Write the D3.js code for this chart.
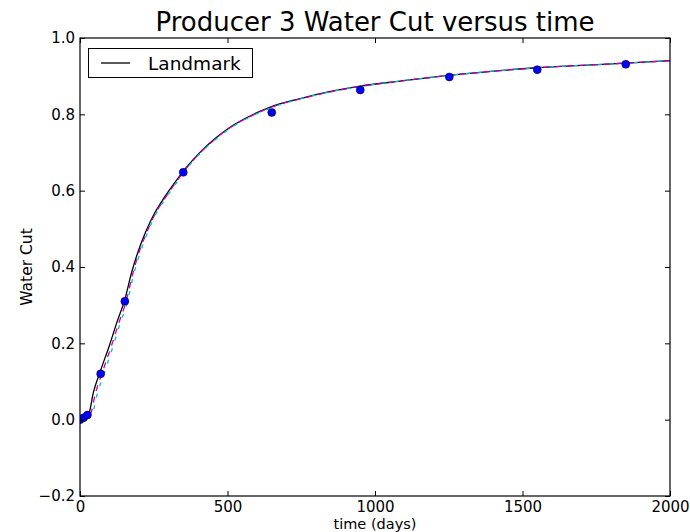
<!DOCTYPE html>
<html>
<head>
<meta charset="utf-8">
<script src="https://cdn.jsdelivr.net/npm/d3@7/dist/d3.min.js"></script>
<style>
  html, body { margin: 0; padding: 0; background: #fff; }
  svg { display: block; font-family: "DejaVu Sans", sans-serif; }
</style>
</head>
<body>
<svg id="chart" width="690" height="532"></svg>
<script>
// ---- data ----
const landmarkDays = [0, 10, 25, 30, 45, 68, 100, 125, 152, 175, 200, 225, 250, 285, 330, 362, 410, 460, 510, 580, 645, 750, 850, 950, 1085, 1250, 1550, 1850, 2000];
const landmarkWC   = [0, 0.004, 0.01, 0.015, 0.07, 0.125, 0.195, 0.255, 0.315, 0.386, 0.447, 0.496, 0.537, 0.581, 0.630, 0.662, 0.703, 0.738, 0.767, 0.797, 0.819, 0.842, 0.860, 0.874, 0.887, 0.902, 0.922, 0.934, 0.9405];

const sim1Days = [0, 10, 30, 36, 52, 74, 106, 131, 157, 179, 203, 228, 252, 287, 331, 363, 411, 461, 511, 581, 646, 750, 850, 950, 1085, 1250, 1550, 1850, 2000];
const sim1WC   = [0, 0.003, 0.009, 0.015, 0.068, 0.12, 0.192, 0.252, 0.312, 0.383, 0.445, 0.494, 0.535, 0.579, 0.628, 0.661, 0.702, 0.737, 0.766, 0.796, 0.818, 0.841, 0.859, 0.873, 0.887, 0.902, 0.922, 0.934, 0.9405];

const sim2Days = [0, 10, 35, 42, 58, 80, 111, 135, 161, 182, 206, 230, 254, 289, 333, 364, 412, 462, 512, 582, 647, 750, 850, 950, 1085, 1250, 1550, 1850, 2000];
const sim2WC   = [0, 0.003, 0.008, 0.015, 0.066, 0.117, 0.19, 0.25, 0.31, 0.381, 0.443, 0.492, 0.534, 0.578, 0.627, 0.66, 0.701, 0.736, 0.765, 0.795, 0.817, 0.841, 0.859, 0.873, 0.887, 0.902, 0.922, 0.934, 0.9405];

const obsDays = [0, 12, 25, 70, 152, 350, 650, 950, 1252, 1550, 1850];
const obsWC   = [0, 0.005, 0.012, 0.12, 0.31, 0.648, 0.805, 0.864, 0.898, 0.917, 0.931];

const xTicks = [0, 500, 1000, 1500, 2000];
const yTicks = [-0.2, 0.0, 0.2, 0.4, 0.6, 0.8, 1.0];

const titleText = "Producer 3 Water Cut versus time";
const xLabel = "time (days)";
const yLabel = "Water Cut";
const legendLabel = "Landmark";

// ---- layout ----
const svg = d3.select("#chart");
const L = 80, R = 670, T = 38, B = 496;
const x = d3.scaleLinear().domain([0, 2000]).range([L, R]);
const y = d3.scaleLinear().domain([-0.2, 1.0]).range([B, T]);

svg.append("defs").append("clipPath").attr("id", "clip")
  .append("rect").attr("x", L).attr("y", T).attr("width", R - L).attr("height", B - T);

const zip = (a, b) => a.map((d, i) => [d, b[i]]);
const line = d3.line().curve(d3.curveMonotoneX).x(d => x(d[0])).y(d => y(d[1]));

const plot = svg.append("g").attr("clip-path", "url(#clip)");

plot.append("path").datum(zip(landmarkDays, landmarkWC))
  .attr("d", line).attr("fill", "none").attr("stroke", "#000").attr("stroke-width", 1.3);
plot.append("path").datum(zip(sim1Days, sim1WC))
  .attr("d", line).attr("fill", "none").attr("stroke", "#bf00bf").attr("stroke-width", 1.3)
  .attr("stroke-dasharray", "6,6");
plot.append("path").datum(zip(sim2Days, sim2WC))
  .attr("d", line).attr("fill", "none").attr("stroke", "#00bfbf").attr("stroke-width", 1.3)
  .attr("stroke-dasharray", "4,8").attr("stroke-dashoffset", -7);

plot.selectAll("circle.obs").data(zip(obsDays, obsWC)).enter().append("circle")
  .attr("class", "obs")
  .attr("cx", d => x(d[0])).attr("cy", d => y(d[1])).attr("r", 4)
  .attr("fill", "#0000ff").attr("stroke", "#000").attr("stroke-width", 0.5);

// ---- axes (matplotlib classic: inward ticks on all sides) ----
const tickLen = 5;
const fmtY = d => (d < 0 ? "\u2212" : "") + Math.abs(d).toFixed(1);

const axB = svg.append("g").attr("transform", `translate(0,${B})`)
  .call(d3.axisBottom(x).tickValues(xTicks).tickSizeInner(-tickLen).tickSizeOuter(0).tickPadding(5).tickFormat(d3.format("d")));
const axT = svg.append("g").attr("transform", `translate(0,${T})`)
  .call(d3.axisTop(x).tickValues(xTicks).tickSizeInner(-tickLen).tickSizeOuter(0).tickFormat(""));
const axL = svg.append("g").attr("transform", `translate(${L},0)`)
  .call(d3.axisLeft(y).tickValues(yTicks).tickSizeInner(-tickLen).tickSizeOuter(0).tickPadding(5).tickFormat(fmtY));
const axR = svg.append("g").attr("transform", `translate(${R},0)`)
  .call(d3.axisRight(y).tickValues(yTicks).tickSizeInner(-tickLen).tickSizeOuter(0).tickFormat(""));

[axB, axT, axL, axR].forEach(g => {
  g.select(".domain").remove();
  g.selectAll(".tick line").attr("stroke", "#000").attr("stroke-width", 1);
  g.selectAll(".tick text").attr("fill", "#000").style("font-size", "15px").style("font-family", "DejaVu Sans");
});

svg.append("rect").attr("x", L).attr("y", T).attr("width", R - L).attr("height", B - T)
  .attr("fill", "none").attr("stroke", "#000").attr("stroke-width", 1.2);

// ---- texts ----
svg.append("text").attr("x", (L + R) / 2).attr("y", 31).attr("text-anchor", "middle")
  .style("font-size", "26px").text(titleText);
svg.append("text").attr("x", (L + R) / 2).attr("y", 528.5).attr("text-anchor", "middle")
  .style("font-size", "14.5px").text(xLabel);
svg.append("text").attr("transform", `translate(32,${(T + B) / 2}) rotate(-90)`).attr("text-anchor", "middle")
  .style("font-size", "15.5px").text(yLabel);

// ---- legend ----
const lg = svg.append("g");
lg.append("rect").attr("x", 88.5).attr("y", 48.5).attr("width", 164).attr("height", 29)
  .attr("fill", "#fff").attr("stroke", "#000").attr("stroke-width", 1);
lg.append("line").attr("x1", 101).attr("x2", 130).attr("y1", 63).attr("y2", 63)
  .attr("stroke", "#000").attr("stroke-width", 1.3);
lg.append("text").attr("x", 148).attr("y", 69.5).style("font-size", "18.5px").text(legendLabel);
</script>
</body>
</html>
